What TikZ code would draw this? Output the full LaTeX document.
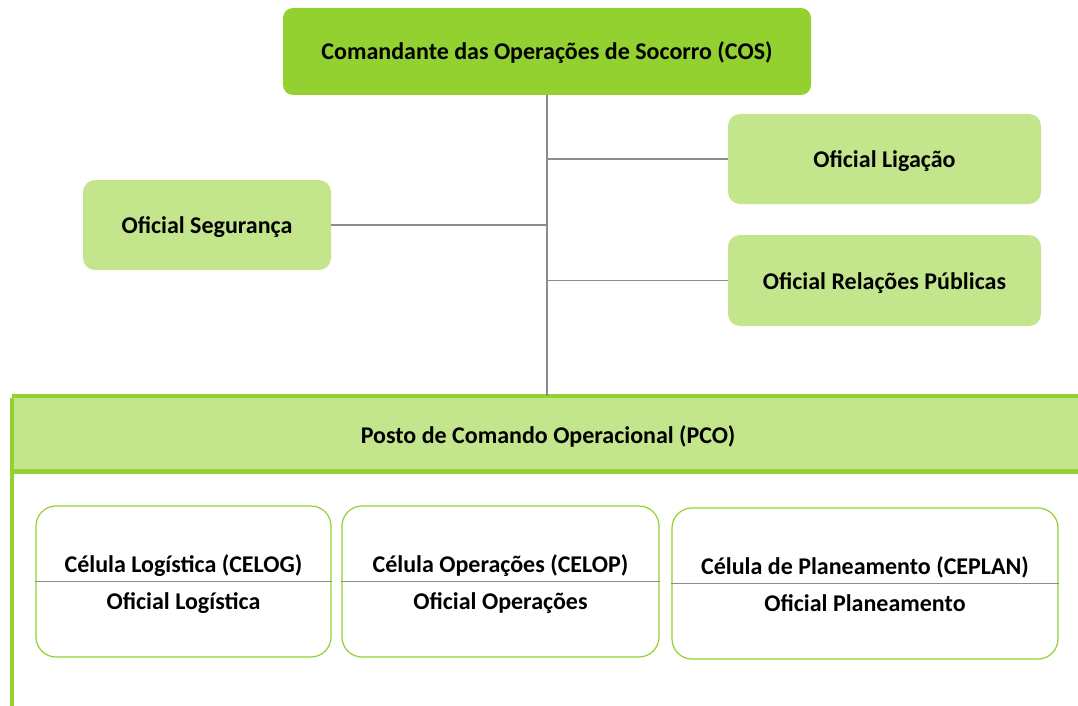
\documentclass[tikz,border=0pt]{standalone}
\usepackage{fontspec}
\setmainfont{Carlito}
\definecolor{dkgreen}{HTML}{92D12F}
\definecolor{ltgreen}{HTML}{C3E68C}
\definecolor{conn}{HTML}{8C8C8C}
\tikzset{
  lbl/.style={font=\fontsize{24}{28}\selectfont\bfseries, text=black, inner sep=0pt, text height=17pt, text depth=0pt},
  cosbox/.style={lbl, fill=dkgreen, rounded corners=10pt, minimum width=528pt, minimum height=87pt},
  offbox/.style={lbl, fill=ltgreen, rounded corners=12pt},
  cellbox/.style={draw=dkgreen, line width=1.2pt, fill=white, rounded corners=20pt},
  link/.style={draw=conn, line width=1.4pt},
  divider/.style={draw=conn, line width=1pt},
  pcoline/.style={draw=dkgreen, line width=4.5pt}
}
\begin{document}
\begin{tikzpicture}[x=1pt,y=-1pt]
\clip (0,0) rectangle (1078,706);
\fill[white] (0,0) rectangle (1078,706);
% PCO frame
\node[fill=ltgreen, inner sep=0pt, minimum width=1090pt, minimum height=75pt, anchor=north west] (pco) at (12,396) {};
\node[lbl] (pcotxt) at (548,434.5) {Posto de Comando Operacional (PCO)};
\draw[pcoline] (pco.north west) -- (pco.north east);
\draw[pcoline] (pco.south west) -- (pco.south east);
\draw[pcoline] ([yshift=-2.25pt]pco.north west) -- (12,710);
% top boxes
\node[cosbox] (cos) at (547,51.5) {Comandante das Operações de Socorro (COS)};
\node[offbox, minimum width=313pt, minimum height=90pt] (lig) at (884.5,159) {Oficial Ligação};
\node[offbox, minimum width=248pt, minimum height=90pt] (seg) at (207,225) {Oficial Segurança};
\node[offbox, minimum width=313pt, minimum height=91pt] (rp) at (884.5,280.5) {Oficial Relações Públicas};
% connectors
\draw[link] (cos.south) -- (cos.south |- pco.north);
\draw[link] (cos.south |- lig.west) -- (lig.west);
\draw[link] (seg.east) -- (cos.south |- seg.east);
\draw[link] (cos.south |- rp.west) -- (rp.west);
% cells
\node[cellbox, minimum width=295pt, minimum height=151pt] (celog) at (183.5,581.5) {};
\node[cellbox, minimum width=317pt, minimum height=151pt] (celop) at (500.5,581.5) {};
\node[cellbox, minimum width=386pt, minimum height=151pt] (ceplan) at (865,583.5) {};
\draw[divider] (celog.west) -- (celog.east);
\draw[divider] (celop.west) -- (celop.east);
\draw[divider] (ceplan.west) -- (ceplan.east);
\node[lbl] (celogA) at (183.5,564) {Célula Logística (CELOG)};
\node[lbl] (celogB) at (183.5,601) {Oficial Logística};
\node[lbl] (celopA) at (500.5,564) {Célula Operações (CELOP)};
\node[lbl] (celopB) at (500.5,601) {Oficial Operações};
\node[lbl] (ceplanA) at (865,566) {Célula de Planeamento (CEPLAN)};
\node[lbl] (ceplanB) at (865,603) {Oficial Planeamento};
\end{tikzpicture}
\end{document}
